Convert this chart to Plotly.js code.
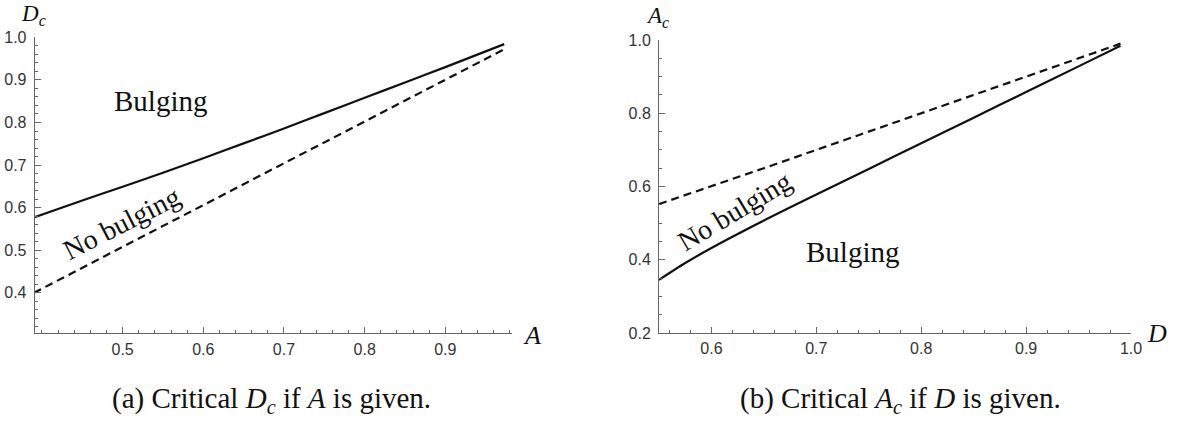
<!DOCTYPE html>
<html>
<head>
<meta charset="utf-8">
<script src="https://cdn.plot.ly/plotly-3.0.1.min.js"></script>
<style>html,body{margin:0;padding:0;background:#fff;}#chart{width:1178px;height:428px;}</style>
</head>
<body>
<div id="chart"></div>
<script>
// Panel (a): critical D_c as a function of A
const aA = [0.39, 0.45, 0.50, 0.55, 0.60, 0.65, 0.70, 0.75, 0.80, 0.85, 0.90, 0.973];
const aSolidDc = [0.577, 0.617, 0.649, 0.682, 0.716, 0.751, 0.786, 0.822, 0.858, 0.894, 0.930, 0.984];
const aDashedDc = [0.400, 0.459, 0.508, 0.557, 0.606, 0.655, 0.704, 0.753, 0.802, 0.851, 0.900, 0.972];
// Panel (b): critical A_c as a function of D
const bD = [0.55, 0.575, 0.60, 0.65, 0.70, 0.75, 0.80, 0.85, 0.90, 0.95, 0.99];
const bSolidAc = [0.345, 0.391, 0.432, 0.507, 0.578, 0.648, 0.718, 0.788, 0.858, 0.928, 0.984];
const bDashedAc = [0.552, 0.576, 0.600, 0.650, 0.700, 0.750, 0.800, 0.850, 0.900, 0.950, 0.990];
const aXTicks = [0.5, 0.6, 0.7, 0.8, 0.9];
const aYTicks = [0.4, 0.5, 0.6, 0.7, 0.8, 0.9, 1.0];
const bXTicks = [0.6, 0.7, 0.8, 0.9, 1.0];
const bYTicks = [0.2, 0.4, 0.6, 0.8, 1.0];

const W = 1178, H = 428;
const px = x => x / W, py = y => 1 - y / H;

const lineCol = '#111';
const solid = {color: lineCol, width: 2.2, shape: 'spline', smoothing: 0.8};
const dashed = {color: lineCol, width: 2.2, dash: '8px,5px'};
const traces = [
  {x: aA, y: aSolidDc, xaxis: 'x', yaxis: 'y', mode: 'lines', line: solid, hoverinfo: 'skip'},
  {x: aA, y: aDashedDc, xaxis: 'x', yaxis: 'y', mode: 'lines', line: dashed, hoverinfo: 'skip'},
  {x: bD, y: bSolidAc, xaxis: 'x2', yaxis: 'y2', mode: 'lines', line: solid, hoverinfo: 'skip'},
  {x: bD, y: bDashedAc, xaxis: 'x2', yaxis: 'y2', mode: 'lines', line: dashed, hoverinfo: 'skip'}
];

const tickFont = {family: 'Liberation Sans, Arial, sans-serif', size: 16, color: '#333'};
function axis(domain, range, tickvals, minorD, anchor, extra) {
  return Object.assign({
    domain: domain, range: range, anchor: anchor,
    showgrid: false, zeroline: false, showline: true, linecolor: '#666', linewidth: 1,
    ticks: 'inside', ticklen: 6, tickcolor: '#666', tickwidth: 1,
    tickmode: 'array', tickvals: tickvals, ticktext: tickvals.map(v => v.toFixed(1)),
    tickfont: tickFont,
    minor: {dtick: minorD, ticks: 'inside', ticklen: 3, tickcolor: '#666', tickwidth: 1, showgrid: false}
  }, extra || {});
}

const serif = 'Liberation Serif, Times New Roman, serif';
const ann = (x, y, text, size, angle, extra) => Object.assign({
  xref: 'paper', yref: 'paper', x: px(x), y: py(y), text: text, showarrow: false,
  font: {family: serif, size: size, color: '#111'}, textangle: angle || 0,
  xanchor: 'center', yanchor: 'middle'
}, extra || {});

const layout = {
  width: W, height: H,
  margin: {l: 0, r: 0, t: 0, b: 0},
  paper_bgcolor: '#fff', plot_bgcolor: '#fff',
  showlegend: false,
  xaxis: axis([px(34.7), px(512.3)], [0.391, 0.983], aXTicks, 0.02, 'y', {ticklabelstandoff: 1}),
  yaxis: axis([py(333.3), py(37.3)], [0.305, 1.0], aYTicks, 0.02, 'x', {ticklabelstandoff: 4}),
  xaxis2: axis([px(659), px(1131)], [0.55, 1.0], bXTicks, 0.02, 'y2', {ticklabelstandoff: 1}),
  yaxis2: axis([py(333), py(40)], [0.2, 1.0], bYTicks, 0.05, 'x2', {ticklabelstandoff: 4}),
  annotations: [
    ann(33, 15, '<i>D<sub>c</sub></i>', 23),
    ann(532, 335, '<i>A</i>', 26),
    ann(160, 101, 'Bulging', 29),
    ann(121, 223, 'No bulging', 28, -27),
    ann(657, 17, '<i>A<sub>c</sub></i>', 23),
    ann(1157, 333, '<i>D</i>', 26),
    ann(852, 252, 'Bulging', 29),
    ann(734, 211, 'No bulging', 28, -31),
    ann(271, 400, '(a) Critical <i>D<sub>c</sub></i> if <i>A</i> is given.', 29),
    ann(901, 400, '(b) Critical <i>A<sub>c</sub></i> if <i>D</i> is given.', 29)
  ]
};

Plotly.newPlot('chart', traces, layout, {staticPlot: true, displayModeBar: false});
</script>
</body>
</html>
